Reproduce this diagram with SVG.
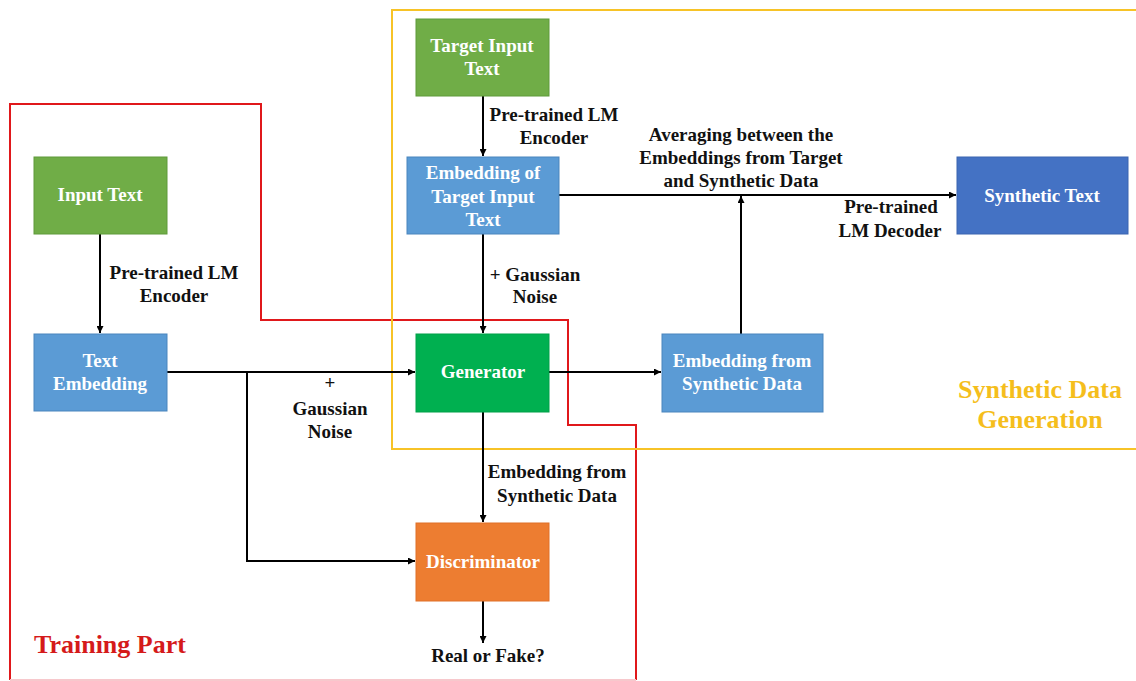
<svg xmlns="http://www.w3.org/2000/svg" width="1136" height="681" viewBox="0 0 1136 681">
<defs>
<marker id="ah" viewBox="0 0 10 10" refX="10" refY="5" markerWidth="7" markerHeight="7" markerUnits="userSpaceOnUse" orient="auto"><path d="M0,0 L10,5 L0,10 z" fill="#000"/></marker>
<style>
.lbl{font-family:"Liberation Serif","Times New Roman",serif;font-weight:bold;font-size:19px;fill:#111;text-anchor:middle}
.nt{font-family:"Liberation Serif","Times New Roman",serif;font-weight:bold;font-size:19px;fill:#fff;text-anchor:middle}
.conn{stroke:#000;stroke-width:2;fill:none}
.green{fill:#70AD47;stroke:#5E9A3A;stroke-width:1}
.blue{fill:#5B9BD5;stroke:#4A85BD;stroke-width:1}
</style>
</defs>
<rect width="1136" height="681" fill="#fff"/>
<g id="regions">
<path d="M10,680 V104 H261 V320 H568 V425 H636 V680" fill="none" stroke="#E0181B" stroke-width="2"/>
<line x1="10" y1="680" x2="636" y2="680" stroke="#F7C8CC" stroke-width="2"/>
<path d="M1136,10 H392 V449 H1136" fill="none" stroke="#F7C327" stroke-width="2"/>
<text x="34" y="653" font-family="Liberation Serif, serif" font-weight="bold" font-size="26" fill="#D51A1A">Training Part</text>
<text x="1040" y="398" font-family="Liberation Serif, serif" font-weight="bold" font-size="26" fill="#F5BE1C" text-anchor="middle">Synthetic Data</text>
<text x="1040" y="428" font-family="Liberation Serif, serif" font-weight="bold" font-size="26" fill="#F5BE1C" text-anchor="middle">Generation</text>
</g>
<g id="connectors">
<line class="conn" x1="100" y1="234" x2="100" y2="333" marker-end="url(#ah)"/>
<line class="conn" x1="483" y1="96" x2="483" y2="156" marker-end="url(#ah)"/>
<line class="conn" x1="559" y1="195" x2="956" y2="195" marker-end="url(#ah)"/>
<line class="conn" x1="483" y1="234" x2="483" y2="333" marker-end="url(#ah)"/>
<line class="conn" x1="167" y1="372" x2="415" y2="372" marker-end="url(#ah)"/>
<polyline class="conn" points="247,372 247,561 415,561" marker-end="url(#ah)"/>
<line class="conn" x1="549" y1="372" x2="661" y2="372" marker-end="url(#ah)"/>
<line class="conn" x1="741" y1="334" x2="741" y2="196" marker-end="url(#ah)"/>
<line class="conn" x1="483" y1="412" x2="483" y2="522" marker-end="url(#ah)"/>
<line class="conn" x1="483" y1="601" x2="483" y2="643" marker-end="url(#ah)"/>
<text class="lbl" x="174" y="279">Pre-trained LM</text>
<text class="lbl" x="174" y="302">Encoder</text>
<text class="lbl" x="554" y="121">Pre-trained LM</text>
<text class="lbl" x="554" y="144">Encoder</text>
<text class="lbl" x="741" y="141">Averaging between the</text>
<text class="lbl" x="741" y="164">Embeddings from Target</text>
<text class="lbl" x="741" y="187">and Synthetic Data</text>
<text class="lbl" x="891" y="213">Pre-trained</text>
<text class="lbl" x="890" y="237">LM Decoder</text>
<text class="lbl" x="535" y="281">+ Gaussian</text>
<text class="lbl" x="535" y="303">Noise</text>
<text class="lbl" x="330" y="389">+</text>
<text class="lbl" x="330" y="415">Gaussian</text>
<text class="lbl" x="330" y="438">Noise</text>
<text class="lbl" x="557" y="478">Embedding from</text>
<text class="lbl" x="557" y="502">Synthetic Data</text>
<text class="lbl" x="488" y="662">Real or Fake?</text>
</g>
<g id="input-text">
<rect class="green" x="34" y="157" width="133" height="77"/>
<text class="nt" x="100" y="201">Input Text</text>
</g>
<g id="text-embedding">
<rect class="blue" x="34" y="334" width="133" height="77"/>
<text class="nt" x="100" y="367">Text</text>
<text class="nt" x="100" y="390">Embedding</text>
</g>
<g id="target-input-text">
<rect class="green" x="416" y="19" width="133" height="77"/>
<text class="nt" x="482" y="52">Target Input</text>
<text class="nt" x="482" y="75">Text</text>
</g>
<g id="embedding-target">
<rect class="blue" x="407" y="157" width="152" height="77"/>
<text class="nt" x="483" y="179">Embedding of</text>
<text class="nt" x="483" y="203">Target Input</text>
<text class="nt" x="483" y="226">Text</text>
</g>
<g id="generator">
<rect x="416" y="334" width="133" height="78" fill="#00B050" stroke="#00A048"/>
<text class="nt" x="483" y="378">Generator</text>
</g>
<g id="embedding-synthetic">
<rect class="blue" x="662" y="334" width="161" height="78"/>
<text class="nt" x="742" y="367">Embedding from</text>
<text class="nt" x="742" y="390">Synthetic Data</text>
</g>
<g id="discriminator">
<rect x="416" y="523" width="133" height="78" fill="#ED7D31" stroke="#E07028"/>
<text class="nt" x="483" y="568">Discriminator</text>
</g>
<g id="synthetic-text">
<rect x="957" y="157" width="171" height="77" fill="#4472C4" stroke="#3A64B0"/>
<text class="nt" x="1042" y="202">Synthetic Text</text>
</g>
</svg>
